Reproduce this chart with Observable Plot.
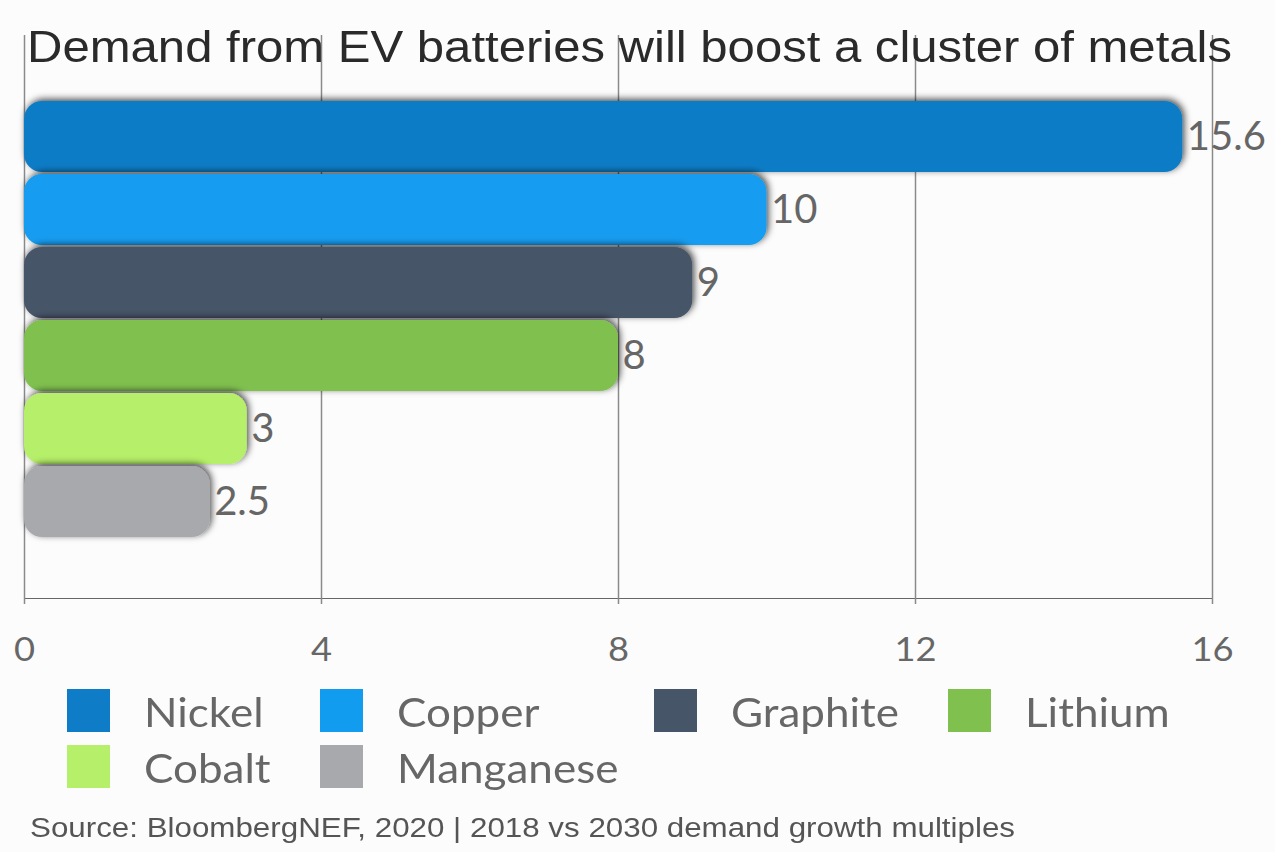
<!DOCTYPE html>
<html>
<head>
<meta charset="utf-8">
<script src="https://cdn.jsdelivr.net/npm/d3@7"></script>
<script src="https://cdn.jsdelivr.net/npm/@observablehq/plot@0.6"></script>
<style>
  html, body { margin: 0; padding: 0; background: #fcfcfc; }
  #wrap { position: relative; width: 1275px; height: 852px; overflow: hidden; background: #fcfcfc; }
  #title { position: absolute; left: 27px; top: 22px; font-family: "Liberation Sans", Arial, sans-serif; font-size: 44px; line-height: 1.15; color: #2a2a2a; white-space: nowrap; z-index: 2; transform-origin: 0 0; }
  #chart { position: absolute; left: 0; top: 0; }
  .lg-sw { position: absolute; width: 43px; height: 43px; }
  .lg-tx { position: absolute; font-family: Lato, "Open Sans", sans-serif; font-size: 40px; line-height: 44px; color: #676767; white-space: nowrap; transform: scaleX(1.1); transform-origin: 0 0; }
  #caption { position: absolute; left: 30px; top: 813px; font-family: "Liberation Sans", Arial, sans-serif; font-size: 27px; color: #555; white-space: nowrap; transform-origin: 0 0; }
</style>
</head>
<body>
<div id="wrap">
  <div id="chart"></div>
  <div id="title"></div>
  <div id="legend"></div>
  <div id="caption"></div>
</div>
<script>
// ---- data ----
const metals = ["Nickel", "Copper", "Graphite", "Lithium", "Cobalt", "Manganese"];
const multiples = [15.6, 10, 9, 8, 3, 2.5];
const valueLabels = ["15.6", "10", "9", "8", "3", "2.5"];
const colors = ["#0e7cc6", "#129cf0", "#465567", "#80c04f", "#b6ef69", "#a8a9ac"];
const xTicks = [0, 4, 8, 12, 16];
const legendOrder = ["Nickel", "Copper", "Graphite", "Lithium", "Cobalt", "Manganese"];
const titleText = "Demand from EV batteries will boost a cluster of metals";
const captionText = "Source: BloombergNEF, 2020 | 2018 vs 2030 demand growth multiples";

const rows = metals.map((m, i) => ({metal: m, value: multiples[i], label: valueLabels[i]}));

const plot = Plot.plot({
  width: 1275,
  height: 680,
  marginTop: 35,
  marginBottom: 82,
  marginLeft: 24,
  marginRight: 63,
  style: {background: "transparent", fontFamily: "Lato, 'Open Sans', sans-serif", color: "#676767"},
  x: {domain: [0, 16], ticks: xTicks, tickSize: 6, tickPadding: 33, line: true, label: null},
  y: {domain: metals, range: [97, 540], padding: 0.03, axis: null},
  color: {domain: metals, range: colors},
  marks: [
    Plot.gridX(xTicks, {stroke: "#8a8a8a", strokeOpacity: 1, strokeWidth: 1.5}),
    Plot.barX(rows, {x: "value", y: "metal", fill: "metal", rx: 18}),
    Plot.text(rows, {x: "value", y: "metal", text: "label", textAnchor: "start", dx: 4, fontSize: 40, fill: "#666"})
  ]
});
document.getElementById("chart").appendChild(plot);

// axis styling
plot.querySelectorAll('g[aria-label="x-axis tick label"]').forEach(g => {
  g.setAttribute("font-size", "33");
  g.style.fontSize = "33px";
  g.querySelectorAll("text").forEach(t => {
    const tr = t.getAttribute("transform") || "";
    t.setAttribute("transform", tr + " scale(1.1,1)");
  });
});
plot.querySelectorAll('g[aria-label="x-axis tick"], g[aria-label="x-axis line"]').forEach(n => {
  n.setAttribute("stroke", "#8a8a8a");
  n.setAttribute("stroke-width", "1.5");
});

// drop shadow on bars
const ns = "http://www.w3.org/2000/svg";
const defs = document.createElementNS(ns, "defs");
const filter = document.createElementNS(ns, "filter");
filter.setAttribute("id", "barShadow");
filter.setAttribute("x", "-5%"); filter.setAttribute("y", "-30%");
filter.setAttribute("width", "110%"); filter.setAttribute("height", "160%");
const ds = document.createElementNS(ns, "feDropShadow");
ds.setAttribute("dx", "2"); ds.setAttribute("dy", "-2");
ds.setAttribute("stdDeviation", "3.5");
ds.setAttribute("flood-color", "#000");
ds.setAttribute("flood-opacity", "0.7");
filter.appendChild(ds);
defs.appendChild(filter);
plot.insertBefore(defs, plot.firstChild);
plot.querySelectorAll('g[aria-label="bar"] rect').forEach(r => r.setAttribute("filter", "url(#barShadow)"));

// title / caption, stretched to the reference's text widths
function fitWidth(el, target) {
  const w = el.getBoundingClientRect().width;
  if (w > 0) el.style.transform = "scaleX(" + (target / w) + ")";
}
const titleEl = document.getElementById("title");
titleEl.textContent = titleText;
fitWidth(titleEl, 1205);
const capEl = document.getElementById("caption");
capEl.textContent = captionText;
fitWidth(capEl, 985);

// legend
const colorOf = Object.fromEntries(metals.map((m, i) => [m, colors[i]]));
const swX = [67, 320, 654, 948];
const rowY = [689, 745];
const legend = document.getElementById("legend");
legendOrder.forEach((m, i) => {
  const col = i % 4, row = Math.floor(i / 4);
  const sw = document.createElement("div");
  sw.className = "lg-sw";
  sw.style.left = swX[col] + "px";
  sw.style.top = rowY[row] + "px";
  sw.style.background = colorOf[m];
  legend.appendChild(sw);
  const tx = document.createElement("div");
  tx.className = "lg-tx";
  tx.style.left = (swX[col] + 77) + "px";
  tx.style.top = (rowY[row] + 1) + "px";
  tx.textContent = m;
  legend.appendChild(tx);
});
</script>
</body>
</html>
